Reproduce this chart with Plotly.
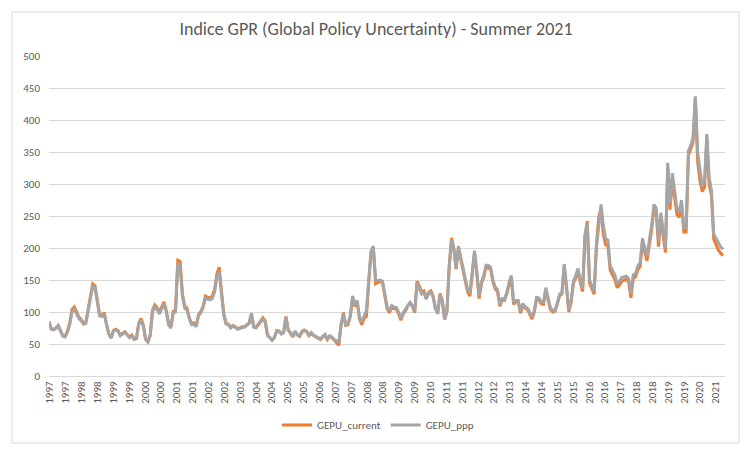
import plotly.graph_objects as go

TITLE = "Indice GPR (Global Policy Uncertainty) - Summer 2021"

# Monthly values, Jan 1997 .. Jun 2021
gepu_ppp = [
    84, 73, 72, 74, 78, 70, 62, 61, 68, 80, 100, 104,
    96, 90, 86, 81, 82, 103, 124, 140, 138, 115, 94, 93,
    98, 80, 65, 59, 70, 72, 70, 63, 66, 68, 64, 60,
    63, 57, 58, 80, 87, 78, 57, 53, 63, 100, 108, 104,
    97, 106, 113, 100, 80, 75, 98, 100, 176, 172, 125, 106,
    103, 89, 80, 81, 77, 94, 99, 107, 122, 120, 119, 121,
    131, 155, 163, 128, 95, 81, 80, 75, 78, 76, 73, 74,
    76, 76, 79, 82, 97, 76, 75, 80, 86, 89, 84, 63,
    60, 56, 60, 71, 70, 66, 68, 92, 72, 68, 62, 70,
    65, 63, 70, 72, 70, 64, 68, 64, 62, 60, 58, 62,
    65, 58, 63, 61, 57, 55, 52, 81, 97, 80, 82, 95,
    125, 112, 118, 92, 84, 94, 102, 150, 195, 203, 150, 149,
    150, 148, 130, 108, 102, 110, 108, 107, 100, 90, 99, 104,
    111, 115, 110, 100, 145, 137, 128, 130, 120, 128, 131, 123,
    105, 97, 127, 116, 88, 100, 170, 213, 198, 168, 203, 186,
    168, 152, 135, 129, 168, 196, 163, 125, 147, 157, 173, 173,
    170, 150, 139, 135, 112, 121, 120, 130, 146, 157, 115, 118,
    118, 100, 113, 108, 106, 100, 93, 102, 123, 122, 116, 115,
    138, 122, 107, 102, 103, 114, 128, 130, 175, 140, 103, 118,
    148, 157, 168, 150, 136, 220, 238, 150, 142, 132, 200, 236,
    268, 235, 215, 212, 172, 165, 158, 144, 148, 154, 155, 156,
    152, 128, 158, 160, 172, 177, 215, 199, 187, 212, 235, 268,
    262, 210, 255, 228, 200, 333, 268, 317, 290, 262, 256, 275,
    232, 232, 352, 360, 372, 437, 350, 320, 296, 305, 378, 310,
    290, 222, 215, 207, 202, 198,
]

gepu_current = [
    85, 74, 73, 75, 79, 71, 63, 62, 70, 83, 104, 108,
    99, 92, 88, 83, 84, 106, 127, 144, 141, 118, 96, 95,
    99, 81, 66, 60, 71, 73, 71, 64, 67, 69, 65, 61,
    64, 58, 59, 82, 90, 80, 58, 54, 64, 103, 111, 107,
    100, 109, 116, 102, 82, 77, 101, 103, 181, 179, 129, 109,
    106, 91, 82, 83, 79, 96, 101, 109, 125, 123, 122, 125,
    135, 160, 170, 132, 97, 82, 81, 76, 79, 77, 74, 75,
    77, 77, 80, 83, 98, 77, 76, 81, 88, 91, 86, 64,
    60, 56, 60, 71, 70, 66, 68, 93, 72, 67, 61, 69,
    64, 62, 69, 71, 69, 63, 67, 63, 61, 59, 57, 61,
    64, 57, 62, 60, 56, 53, 48, 79, 99, 79, 80, 93,
    122, 109, 115, 89, 80, 90, 93, 146, 192, 201, 144, 146,
    148, 146, 128, 105, 99, 107, 105, 105, 97, 87, 97, 102,
    110, 114, 109, 99, 148, 141, 131, 133, 122, 130, 133, 125,
    106, 98, 129, 118, 89, 101, 172, 216, 200, 167, 200, 183,
    165, 149, 131, 125, 165, 193, 160, 121, 144, 154, 170, 169,
    167, 147, 136, 132, 109, 119, 118, 128, 144, 155, 112, 116,
    116, 98, 111, 106, 104, 97, 89, 100, 121, 119, 113, 112,
    135, 119, 104, 100, 101, 112, 126, 128, 172, 137, 100, 115,
    145, 153, 164, 146, 132, 216, 242, 145, 137, 128, 205, 248,
    262, 222, 205, 203, 165, 158, 151, 138, 142, 148, 150, 151,
    147, 122, 152, 155, 166, 171, 208, 192, 180, 205, 228, 262,
    255, 202, 248, 220, 193, 325, 260, 307, 280, 252, 248, 268,
    225, 225, 345, 355, 365, 434, 335, 305, 288, 295, 372, 300,
    282, 214, 205, 197, 192, 188,
]

tick_labels = ["1997", "1997", "1998", "1998", "1999", "1999", "2000", "2000",
               "2001", "2001", "2002", "2002", "2003", "2004", "2004", "2005",
               "2005", "2006", "2007", "2007", "2008", "2008", "2009", "2009",
               "2010", "2011", "2011", "2012", "2012", "2013", "2014", "2014",
               "2015", "2015", "2016", "2016", "2017", "2018", "2018", "2019",
               "2019", "2020", "2021"]

months = list(range(len(gepu_ppp)))
n_lab = len(tick_labels)
lab_span = (len(months) - 1) * 0.988
tick_vals = [0.4 + k * lab_span / (n_lab - 1) for k in range(n_lab)]

FONT = "Carlito, Calibri, Lato, sans-serif"
TXT = "#595959"
GRID = "#d9d9d9"

fig = go.Figure()
fig.add_trace(go.Scatter(x=months, y=gepu_current, mode="lines", name="GEPU_current",
                         line=dict(color="#ED7D31", width=3)))
fig.add_trace(go.Scatter(x=months, y=gepu_ppp, mode="lines", name="GEPU_ppp",
                         line=dict(color="#A5A5A5", width=3)))

OFF = 8  # page body margin
W, H = 752 - OFF, 453 - OFF
L, R, T, B = 49 - OFF, 27, 56 - OFF, 77
pw, ph = W - L - R, H - T - B


def px(xp):
    return (xp - OFF - L) / pw


def py(yp):
    return (H - B - (yp - OFF)) / ph


fig.update_layout(
    width=W, height=H,
    margin=dict(l=L, r=R, t=T, b=B),
    paper_bgcolor="white", plot_bgcolor="white",
    font=dict(family=FONT, color=TXT, size=11),
    title=dict(text=TITLE, x=px(376), xanchor="center", xref="paper",
               y=1 - (29 - OFF) / H, yanchor="middle",
               font=dict(family=FONT, size=18, color=TXT)),
    showlegend=True,
    legend=dict(orientation="h", x=px(378), xanchor="center", y=py(425), yanchor="middle",
                font=dict(family=FONT, size=11, color=TXT), traceorder="normal",
                itemwidth=30),
    xaxis=dict(range=[0, len(months) - 1 + 0.9], tickmode="array", tickvals=tick_vals,
               ticktext=tick_labels, tickangle=-90, showgrid=False, zeroline=False,
               showline=True, linecolor=GRID, linewidth=1, ticks="",
               tickfont=dict(family=FONT, size=11, color=TXT)),
    yaxis=dict(range=[0, 500], dtick=50, showgrid=True, gridcolor=GRID, gridwidth=1,
               zeroline=False, showline=False, ticks="", ticklabelstandoff=8,
               tickfont=dict(family=FONT, size=11, color=TXT)),
    shapes=[dict(type="rect", xref="paper", yref="paper",
                 x0=px(12), x1=px(739), y0=py(443), y1=py(12),
                 line=dict(color=GRID, width=1), fillcolor="rgba(0,0,0,0)", layer="below")],
)

fig.write_html("out.html")
